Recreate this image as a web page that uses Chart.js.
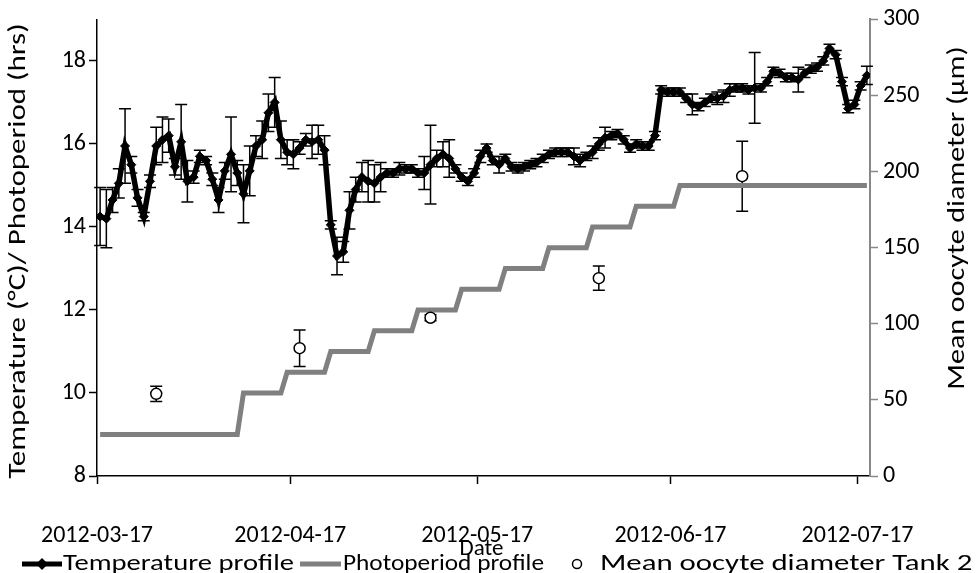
<!DOCTYPE html>
<html>
<head>
<meta charset="utf-8">
<script src="https://cdn.jsdelivr.net/npm/chart.js@4.4.1/dist/chart.umd.min.js"></script>
<style>
  html, body { margin: 0; padding: 0; background: #fff; }
  #wrap { width: 977px; height: 573px; }
</style>
</head>
<body>
<div id="wrap"><canvas id="chart" width="977" height="573"></canvas></div>
<script>
// x axis: days since 2012-03-17
const tickDays = [0, 31, 61, 92, 122];
const tickLabels = ['2012-03-17', '2012-04-17', '2012-05-17', '2012-06-17', '2012-07-17'];

// daily temperature (°C), one value per day starting 2012-03-17
const temperature = [
  14.25, 14.2, 14.65, 15.05, 15.95, 15.5, 14.7, 14.25, 15.1, 15.95,
  16.1, 16.2, 15.45, 16.05, 15.1, 15.2, 15.7, 15.6, 15.15, 14.65,
  15.35, 15.75, 15.3, 14.8, 15.35, 15.95, 16.1, 16.75, 17.0, 16.1,
  15.8, 15.75, 15.9, 16.1, 16.05, 16.1, 15.85, 14.05, 13.3, 13.4,
  14.4, 14.9, 15.2, 15.1, 15.05, 15.2, 15.3, 15.3, 15.4, 15.4,
  15.4, 15.3, 15.3, 15.5, 15.65, 15.75, 15.65, 15.4, 15.2, 15.1,
  15.3, 15.7, 15.9, 15.6, 15.5, 15.65, 15.45, 15.4, 15.45, 15.5,
  15.55, 15.65, 15.75, 15.8, 15.8, 15.8, 15.7, 15.6, 15.7, 15.8,
  16.0, 16.15, 16.2, 16.25, 16.1, 15.9, 16.0, 15.95, 15.95, 16.2,
  17.3, 17.25, 17.25, 17.25, 17.1, 16.95, 16.9, 17.0, 17.1, 17.1,
  17.15, 17.3, 17.35, 17.35, 17.3, 17.35, 17.35, 17.5, 17.75, 17.7,
  17.6, 17.6, 17.55, 17.7, 17.8, 17.85, 18.0, 18.3, 18.15, 17.5,
  16.85, 16.95, 17.4, 17.65
];
const temperatureErr = [
  0.7, 0.7, 0.3, 0.35, 0.9, 0.2, 0.2, 0.1, 0.15, 0.45,
  0.55, 0.4, 0.2, 0.9, 0.5, 0.15, 0.15, 0.1, 0.15, 0.3,
  0.2, 0.9, 0.3, 0.7, 0.6, 0.25, 0.45, 0.45, 0.6, 0.45,
  0.3, 0.35, 0.15, 0.15, 0.4, 0.35, 0.35, 0.1, 0.45, 0.25,
  0.45, 0.3, 0.35, 0.5, 0.45, 0.35, 0.1, 0.1, 0.15, 0.1,
  0.1, 0.1, 0.4, 0.95, 0.2, 0.3, 0.45, 0.1, 0.1, 0.1,
  0.1, 0.15, 0.1, 0.1, 0.2, 0.1, 0.1, 0.1, 0.1, 0.1,
  0.1, 0.1, 0.1, 0.1, 0.1, 0.1, 0.2, 0.15, 0.1, 0.15,
  0.15, 0.25, 0.1, 0.1, 0.1, 0.1, 0.1, 0.1, 0.1, 0.1,
  0.1, 0.1, 0.1, 0.1, 0.1, 0.25, 0.1, 0.1, 0.1, 0.15,
  0.15, 0.15, 0.1, 0.1, 0.1, 0.85, 0.1, 0.1, 0.1, 0.1,
  0.1, 0.1, 0.3, 0.1, 0.1, 0.1, 0.1, 0.1, 0.1, 0.1,
  0.1, 0.1, 0.1, 0.22
];

// photoperiod (hrs): the day each level starts / ends
const photoDays  = [0, 22, 23, 29, 30, 36, 37, 43, 44, 50, 51, 57, 58, 64, 65, 71, 72, 78, 79, 85, 86, 92, 93, 123];
const photoHours = [9, 9, 10, 10, 10.5, 10.5, 11, 11, 11.5, 11.5, 12, 12, 12.5, 12.5, 13, 13, 13.5, 13.5, 14, 14, 14.5, 14.5, 15, 15];

// mean oocyte diameter tank 2 (µm)
const oocyteDays = [9, 32, 53, 80, 103];
const oocyteDiam = [54, 84, 104, 130, 197];
const oocyteErr  = [5, 12, 2, 8, 23];

const FONT = 'Carlito, Calibri, Lato, sans-serif';

const tempPoints = temperature.map((t, i) => ({ x: i + 0.5, y: t }));
const photoPoints = photoDays.map((d, i) => ({ x: d + 0.5, y: photoHours[i] }));
const oocytePoints = oocyteDays.map((d, i) => ({ x: d + 0.5, y: oocyteDiam[i] }));

function drawBar(ctx, px, top, bottom, cap) {
  ctx.beginPath();
  ctx.moveTo(px, top); ctx.lineTo(px, bottom);
  ctx.moveTo(px - cap, top); ctx.lineTo(px + cap, top);
  ctx.moveTo(px - cap, bottom); ctx.lineTo(px + cap, bottom);
  ctx.stroke();
}

// text a little wider than the font, as in the original export
function wideText(ctx, txt, x, y, angle, stretch) {
  ctx.save();
  ctx.translate(x, y);
  ctx.rotate(angle);
  ctx.scale(stretch, 1);
  ctx.fillText(txt, 0, 0);
  ctx.restore();
}

const errorBars = {
  id: 'errorBars',
  beforeDatasetsDraw(chart) {
    const { ctx, scales: { x, y, y2 } } = chart;
    ctx.save();
    ctx.strokeStyle = '#000';
    ctx.lineWidth = 1.5;
    temperature.forEach((t, i) => {
      const px = x.getPixelForValue(i + 0.5);
      drawBar(ctx, px, y.getPixelForValue(t + temperatureErr[i]), y.getPixelForValue(t - temperatureErr[i]), 6);
    });
    oocyteDiam.forEach((v, i) => {
      const px = x.getPixelForValue(oocyteDays[i] + 0.5);
      drawBar(ctx, px, y2.getPixelForValue(v + oocyteErr[i]), y2.getPixelForValue(v - oocyteErr[i]), 6);
    });
    ctx.restore();
  }
};

const extraText = {
  id: 'extraText',
  afterDraw(chart) {
    const { ctx, chartArea } = chart;
    ctx.save();
    ctx.fillStyle = '#000';
    ctx.font = '25px ' + FONT;
    ctx.textAlign = 'center';
    ctx.textBaseline = 'middle';
    // axis titles
    wideText(ctx, 'Temperature (°C)/ Photoperiod (hrs)', 19, 251, -Math.PI / 2, 1.24);
    wideText(ctx, 'Mean oocyte diameter (µm)', 958, 218, -Math.PI / 2, 1.2);
    ctx.font = '23px ' + FONT;
    ctx.fillText('Date', (chartArea.left + chartArea.right) / 2 - 2, 549);

    // legend
    const ly = 564;
    ctx.font = '22px ' + FONT;
    ctx.textAlign = 'left';
    ctx.lineWidth = 5;
    ctx.strokeStyle = '#000';
    ctx.beginPath(); ctx.moveTo(22, ly); ctx.lineTo(62, ly); ctx.stroke();
    ctx.beginPath();
    ctx.moveTo(42, ly - 6); ctx.lineTo(48, ly); ctx.lineTo(42, ly + 6); ctx.lineTo(36, ly); ctx.closePath();
    ctx.fill();
    wideText(ctx, 'Temperature profile', 63, ly, 0, 1.3);
    ctx.strokeStyle = '#808080';
    ctx.beginPath(); ctx.moveTo(300, ly); ctx.lineTo(341, ly); ctx.stroke();
    wideText(ctx, 'Photoperiod profile', 343, ly, 0, 1.15);
    ctx.lineWidth = 1.5;
    ctx.strokeStyle = '#000';
    ctx.beginPath(); ctx.arc(577, ly, 4.5, 0, Math.PI * 2); ctx.stroke();
    wideText(ctx, 'Mean oocyte diameter Tank 2', 600, ly, 0, 1.4);
    ctx.restore();
  }
};

new Chart(document.getElementById('chart'), {
  type: 'line',
  data: {
    datasets: [
      {
        label: 'Mean oocyte diameter Tank 2',
        data: oocytePoints,
        yAxisID: 'y2',
        showLine: false,
        pointStyle: 'circle',
        pointRadius: 5.5,
        pointBackgroundColor: '#fff',
        pointBorderColor: '#000',
        pointBorderWidth: 1.5
      },
      {
        label: 'Temperature profile',
        data: tempPoints,
        yAxisID: 'y',
        borderColor: '#000',
        borderWidth: 5.5,
        pointStyle: 'rectRot',
        pointRadius: 4.5,
        pointBackgroundColor: '#000',
        pointBorderColor: '#000',
        pointBorderWidth: 1,
        tension: 0
      },
      {
        label: 'Photoperiod profile',
        data: photoPoints,
        yAxisID: 'y',
        borderColor: '#808080',
        borderWidth: 5,
        pointRadius: 0,
        tension: 0
      }
    ]
  },
  options: {
    responsive: false,
    animation: false,
    layout: { padding: { top: 16, bottom: 13, left: 0, right: 0 } },
    plugins: {
      legend: { display: false },
      tooltip: { enabled: false }
    },
    scales: {
      x: {
        type: 'linear',
        min: 0,
        max: 124,
        afterBuildTicks: (s) => { s.ticks = tickDays.map(v => ({ value: v })); },
        afterFit: (s) => { s.height = 84; },
        ticks: {
          callback: (v) => tickLabels[tickDays.indexOf(v)],
          font: { size: 24, family: FONT },
          color: '#000',
          padding: 38,
          maxRotation: 0,
          autoSkip: false
        },
        grid: { drawOnChartArea: false, tickLength: 8, tickColor: '#000', tickWidth: 1.5 },
        border: { color: '#000', width: 1.5 }
      },
      y: {
        position: 'left',
        min: 8,
        max: 19,
        afterBuildTicks: (s) => { s.ticks = s.ticks.filter(t => t.value % 2 === 0); },
        afterFit: (s) => { s.width = 97; },
        ticks: { stepSize: 2, font: { size: 24, family: FONT }, color: '#000', padding: 3 },
        grid: { drawOnChartArea: false, tickLength: 8, tickColor: '#000', tickWidth: 1.5 },
        border: { color: '#000', width: 1.5 }
      },
      y2: {
        position: 'right',
        min: 0,
        max: 300,
        afterFit: (s) => { s.width = 107; },
        ticks: { stepSize: 50, font: { size: 24, family: FONT }, color: '#000', padding: 5 },
        grid: { drawOnChartArea: false, tickLength: 8, tickColor: '#888', tickWidth: 1.5 },
        border: { color: '#888', width: 2 }
      }
    }
  },
  plugins: [errorBars, extraText]
});
</script>
</body>
</html>
